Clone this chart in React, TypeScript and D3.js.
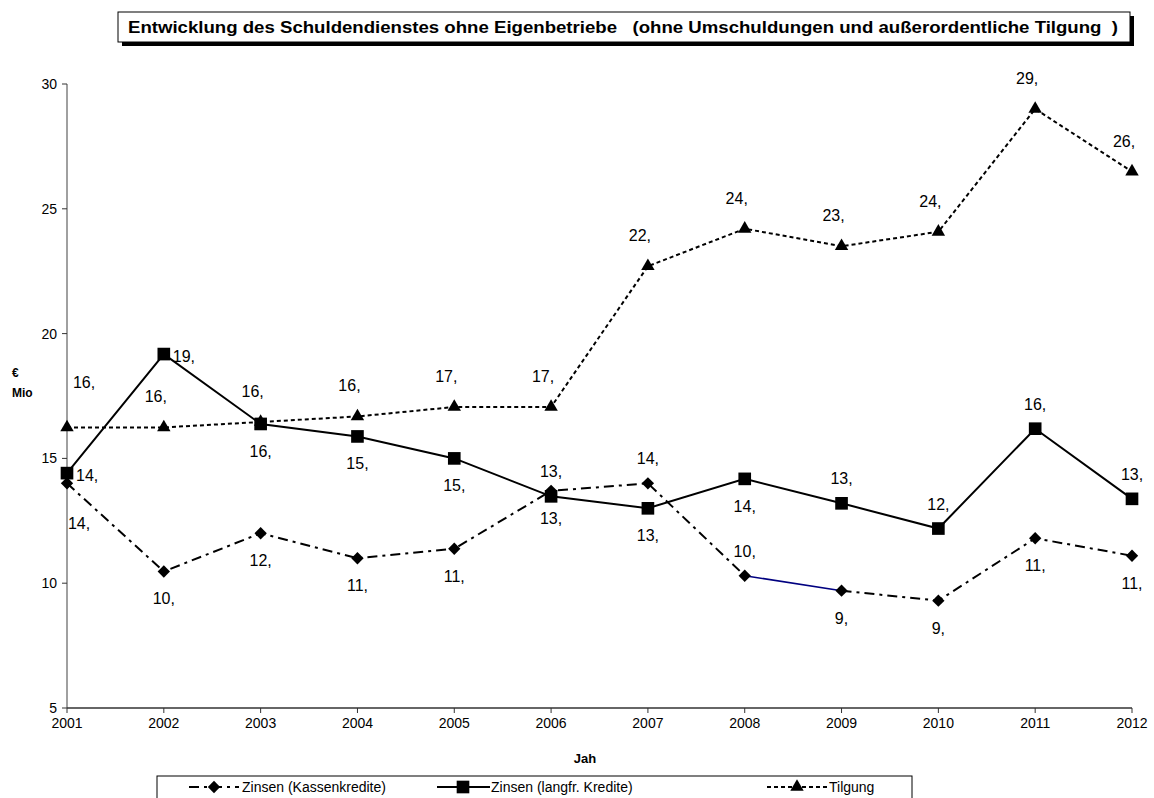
import * as d3 from "d3";

const years = ["2001", "2002", "2003", "2004", "2005", "2006", "2007", "2008", "2009", "2010", "2011", "2012"];
const kassenkredite = [14.0, 10.47, 12.0, 11.0, 11.38, 13.7, 14.0, 10.3, 9.7, 9.3, 11.8, 11.1];
const langfrKredite = [14.41, 19.18, 16.38, 15.88, 15.0, 13.48, 13.0, 14.18, 13.2, 12.19, 16.19, 13.38];
const tilgung = [16.24, 16.24, 16.46, 16.68, 17.06, 17.06, 22.7, 24.2, 23.5, 24.08, 29.0, 26.49];
const yTicks = [5, 10, 15, 20, 25, 30];

// where each data label sits relative to its point
const kassenPlace = ["br", "b", "b", "b", "b", "b", "a", "a", "b", "b", "b", "b"];
const langfrPlace = ["r", "r", "b", "b", "b", "a", "b", "b", "a", "a", "a", "a"];
const tilgungPlace = ["ar", "a", "a", "a", "a", "a", "a", "a", "a", "a", "a", "a"];

const title = "Entwicklung des Schuldendienstes ohne Eigenbetriebe   (ohne Umschuldungen und außerordentliche Tilgung  )";
const font = "'Liberation Sans', Arial, sans-serif";

const W = 1154;
const H = 798;

const x = d3.scalePoint<string>().domain(years).range([67, 1132]);
const y = d3.scaleLinear().domain([5, 30]).range([708, 84]);

const offsets: Record<string, { dx: number; dy: number; anchor: string }> = {
  a: { dx: 0, dy: -19, anchor: "middle" },
  b: { dx: 0, dy: 33, anchor: "middle" },
  r: { dx: 9, dy: 8, anchor: "start" },
  br: { dx: 12, dy: 46, anchor: "middle" },
  ar: { dx: 17, dy: -39, anchor: "middle" },
};

const DASHDOT = "10,5,3,5";
const DOTTED = "4,3";

const sq = d3.symbol().type(d3.symbolSquare).size(160)()!;
const dia = d3.symbol().type(d3.symbolSquare).size(76)()!;
const tri = d3.symbol().type(d3.symbolTriangle).size(78)()!;

function Marker({ kind, cx, cy }: { kind: string; cx: number; cy: number }) {
  if (kind === "diamond") return <path d={dia} transform={`translate(${cx},${cy}) rotate(45)`} fill="#000" />;
  if (kind === "square") return <path d={sq} transform={`translate(${cx},${cy})`} fill="#000" />;
  return <path d={tri} transform={`translate(${cx},${cy})`} fill="#000" />;
}

export default function App() {
  const line = d3
    .line<number>()
    .x((_, i) => x(years[i])!)
    .y((d) => y(d));

  const pts = (vals: number[]) => vals.map((v, i) => [x(years[i])!, y(v)] as [number, number]);
  const seg = d3.line();
  const kp = pts(kassenkredite);

  const labels = (vals: number[], place: string[], dxExtra = 0, dyExtra = 0) =>
    vals.map((v, i) => {
      const o = offsets[place[i]];
      const extra = place[i] === "a" ? { dx: dxExtra, dy: dyExtra } : { dx: 0, dy: 0 };
      return (
        <text
          key={i}
          x={x(years[i])! + o.dx + extra.dx}
          y={y(v) + o.dy + extra.dy}
          textAnchor={o.anchor}
          fontSize={16}
        >
          {Math.floor(v) + ","}
        </text>
      );
    });

  return (
    <svg
      width={W}
      height={H}
      style={{ position: "absolute", left: 0, top: 0, background: "#fff", fontFamily: font }}
    >
      {/* title box */}
      <rect x={122} y={16} width={1012} height={30} fill="#000" />
      <rect x={118} y={12} width={1012} height={30} fill="#fff" stroke="#000" strokeWidth={1} />
      <text
        x={128}
        y={33}
        fontSize={17}
        fontWeight="bold"
        textLength={990}
        lengthAdjust="spacingAndGlyphs"
        style={{ whiteSpace: "pre" }}
      >
        {title}
      </text>

      {/* y axis */}
      <line x1={67} x2={67} y1={y(30)} y2={y(5)} stroke="#808080" strokeWidth={1.5} />
      {yTicks.map((t) => (
        <g key={t}>
          <line x1={62} x2={67} y1={y(t)} y2={y(t)} stroke="#333" />
          <text x={57} y={y(t) + 5} textAnchor="end" fontSize={14}>
            {t}
          </text>
        </g>
      ))}
      <text x={12} y={377} fontSize={12} fontWeight="bold">€</text>
      <text x={12} y={397} fontSize={12} fontWeight="bold">Mio</text>

      {/* x axis */}
      <line x1={67} x2={1132} y1={y(5)} y2={y(5)} stroke="#333" strokeWidth={1.5} />
      {years.map((yr) => (
        <g key={yr}>
          <line x1={x(yr)} x2={x(yr)} y1={y(5)} y2={y(5) + 5} stroke="#333" />
          <text x={x(yr)} y={728} textAnchor="middle" fontSize={14}>
            {yr}
          </text>
        </g>
      ))}
      <text x={585} y={763} textAnchor="middle" fontSize={13} fontWeight="bold">Jah</text>

      {/* Tilgung */}
      <path d={line(tilgung)!} fill="none" stroke="#000" strokeWidth={2} strokeDasharray={DOTTED} />
      {/* Zinsen langfr. */}
      <path d={line(langfrKredite)!} fill="none" stroke="#000" strokeWidth={2} />
      {/* Zinsen Kassenkredite: dash-dot with one solid navy segment 2008-2009 */}
      <path d={seg(kp.slice(0, 8))!} fill="none" stroke="#000" strokeWidth={2} strokeDasharray={DASHDOT} />
      <path d={seg(kp.slice(7, 9))!} fill="none" stroke="#000080" strokeWidth={1.5} />
      <path d={seg(kp.slice(8))!} fill="none" stroke="#000" strokeWidth={2} strokeDasharray={DASHDOT} />

      {tilgung.map((v, i) => <Marker key={"t" + i} kind="triangle" cx={x(years[i])!} cy={y(v)} />)}
      {langfrKredite.map((v, i) => <Marker key={"l" + i} kind="square" cx={x(years[i])!} cy={y(v)} />)}
      {kassenkredite.map((v, i) => <Marker key={"k" + i} kind="diamond" cx={x(years[i])!} cy={y(v)} />)}

      {labels(tilgung, tilgungPlace, -8, -6)}
      {labels(langfrKredite, langfrPlace)}
      {labels(kassenkredite, kassenPlace)}

      {/* legend */}
      <rect x={157} y={776} width={755} height={40} fill="#fff" stroke="#000" strokeWidth={1} />
      <line x1={189} x2={239} y1={787} y2={787} stroke="#000" strokeWidth={2} strokeDasharray={DASHDOT} />
      <Marker kind="diamond" cx={214} cy={787} />
      <text x={242} y={792} fontSize={14}>Zinsen (Kassenkredite)</text>
      <line x1={437} x2={490} y1={787} y2={787} stroke="#000" strokeWidth={2} />
      <Marker kind="square" cx={463} cy={787} />
      <text x={491} y={792} fontSize={14}>Zinsen (langfr. Kredite)</text>
      <line x1={767} x2={827} y1={787} y2={787} stroke="#000" strokeWidth={2} strokeDasharray={DOTTED} />
      <Marker kind="triangle" cx={797} cy={787} />
      <text x={829} y={792} fontSize={14}>Tilgung</text>
    </svg>
  );
}
